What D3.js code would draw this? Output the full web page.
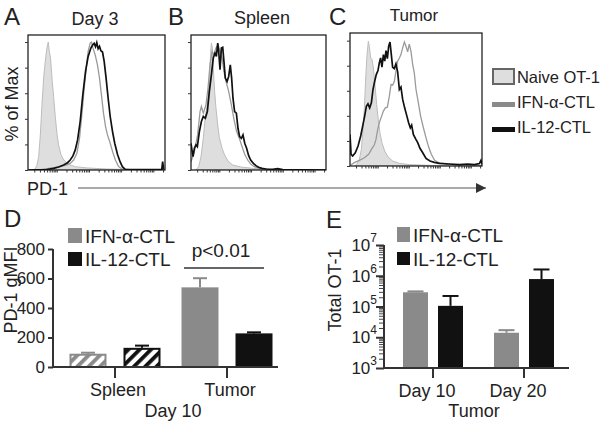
<!DOCTYPE html>
<html><head><meta charset="utf-8">
<script src="https://cdn.jsdelivr.net/npm/d3@7"></script>
<style>
body{margin:0;background:#fff;}
svg{display:block;font-family:"Liberation Sans",Arial,sans-serif;}
text{fill:#222;}
</style></head>
<body><svg id="c" width="601" height="424"></svg>
<script>
// ---------- histogram data: [axis position %, % of Max] ----------
const naiveA=[[2.9,0],[5.3,0.8],[6.6,3.9],[7.8,10.4],[9.0,27.4],[10.2,50.9],[11.4,71.8],[12.6,84.9],[13.8,95.3],[14.8,100],[15.5,92.7],[16.3,88.8],[17.0,79.6],[17.7,69.2],[18.7,57.4],[19.9,41.8],[21.1,28.7],[22.3,19.6],[24.0,12.3],[26.0,7.8],[29.6,4.4],[34.5,2.6],[43.0,1.6],[57.5,0.8],[74.5,0.3],[98.8,0]];
const ifnA=[[0.5,0],[9.0,0.3],[18.7,1.8],[23.5,2.6],[28.4,3.9],[30.8,5.2],[33.3,7.8],[35.7,13.1],[37.6,24.8],[39.3,43.1],[41.0,64.0],[42.5,79.6],[43.9,92.7],[45.4,99.2],[46.4,100],[47.3,95.8],[49.0,90.1],[50.7,82.2],[52.2,71.8],[53.6,58.7],[55.1,44.4],[56.6,33.9],[58.0,27.4],[60.0,20.9],[61.9,13.8],[63.8,7.8],[66.0,2.9],[68.4,0.8],[74.5,0.3],[98.8,0]];
const il12A=[[0.5,0],[13.8,0.3],[18.7,1.3],[22.3,2.3],[26.0,3.9],[28.9,5.7],[30.8,7.8],[32.8,11.0],[34.5,15.7],[36.2,23.5],[38.1,37.9],[40.0,58.7],[42.0,77.0],[43.9,88.8],[45.9,95.3],[47.3,97.9],[48.3,99.0],[49.3,96.3],[50.2,99.5],[51.2,94.8],[52.2,96.6],[53.2,93.2],[54.4,92.2],[55.6,84.9],[57.0,71.8],[58.5,56.1],[60.0,41.8],[61.7,30.0],[63.3,20.9],[65.3,12.3],[67.2,6.5],[68.9,2.6],[70.9,0.5],[74.5,0.3],[97.6,0.3],[98.3,6.5],[99.0,0.3]];
const naiveB=[[3.7,0.3],[5.7,2.6],[7.4,10.4],[9.1,24.8],[10.6,41.8],[12.3,52.2],[13.6,69.2],[14.6,92.7],[15.1,99.2],[15.8,95.3],[16.5,79.6],[17.5,61.4],[18.5,48.3],[19.8,35.2],[21.0,25.3],[23.0,17.0],[24.9,11.7],[27.4,7.0],[30.9,3.9],[37.0,2.3],[45.7,1.3],[55.6,0.5],[67.9,0]];
const ifnB=[[0,6.5],[2.5,14.4],[4.9,27.4],[6.7,45.7],[7.7,49.6],[9.1,44.4],[11.1,50.9],[12.6,64.0],[14.1,82.2],[15.6,92.7],[17.0,90.1],[18.5,95.3],[20.0,97.9],[21.5,92.7],[23.0,87.5],[24.4,77.0],[25.9,69.2],[27.9,61.4],[29.9,50.9],[31.9,39.2],[33.8,30.0],[35.8,24.8],[37.8,18.3],[39.8,12.3],[42.0,7.8],[44.4,4.4],[46.9,2.6],[50.6,1.3],[58.0,0.5],[65.4,0.3],[100,0]];
const il12B=[[0,20.9],[0.7,15.7],[1.5,10.4],[2.5,17.0],[3.7,19.6],[4.7,18.3],[6.2,30.0],[7.7,37.9],[9.1,41.8],[10.6,40.5],[12.1,45.7],[13.6,61.4],[15.1,74.4],[16.5,87.5],[17.8,91.4],[18.8,88.8],[19.8,99.2],[20.5,92.7],[21.5,78.3],[22.5,95.3],[23.5,95.8],[24.4,84.9],[25.4,71.8],[26.7,69.2],[27.9,73.1],[29.1,82.2],[30.1,71.8],[31.1,56.1],[32.3,45.7],[33.6,44.4],[34.8,32.6],[36.0,26.1],[37.3,24.8],[38.5,27.4],[39.8,20.9],[41.2,17.0],[42.7,11.2],[44.2,7.8],[46.2,5.2],[48.1,3.4],[50.1,2.1],[52.6,1.3],[55.6,0.8],[60.5,0.5],[64.2,1.0],[67.9,0.3],[100,0]];
const naiveC=[[3.3,0],[5.1,1.3],[7.1,5.3],[8.6,13.3],[9.8,27.9],[10.9,46.4],[11.9,70.3],[12.9,88.9],[13.9,99.5],[14.6,95.5],[15.7,86.2],[16.7,84.9],[17.7,78.2],[18.9,65.0],[20.2,49.1],[21.5,35.8],[22.7,26.5],[24.2,18.6],[26.3,11.9],[28.8,7.2],[32.3,4.0],[37.4,2.1],[44.9,1.1],[60.1,0.5],[75.3,0]];
const ifnC=[[0.5,0.8],[3.3,2.7],[7.1,4.5],[10.9,6.6],[14.1,9.3],[16.7,14.1],[18.4,16.7],[19.7,21.2],[21.0,29.2],[22.2,34.5],[23.7,39.0],[25.3,43.8],[26.8,46.4],[28.3,46.9],[29.8,55.7],[31.1,65.0],[32.3,64.5],[33.6,67.6],[34.8,75.6],[36.1,83.6],[37.4,86.2],[38.6,88.9],[39.9,94.2],[41.2,98.9],[42.4,95.5],[43.7,91.0],[44.9,97.3],[46.2,91.5],[47.5,80.9],[48.7,74.3],[50.0,61.0],[51.8,50.4],[53.5,39.8],[55.6,30.5],[57.6,22.5],[59.6,15.1],[61.6,9.3],[64.1,4.5],[67.7,2.4],[75.3,1.1],[85.4,0.5],[99.5,0.5]];
const il12C=[[0,25.2],[0.8,9.3],[2.0,8.0],[4.0,10.6],[6.1,15.9],[8.1,23.9],[9.6,31.8],[11.1,39.8],[12.4,47.7],[13.6,49.6],[14.9,46.4],[16.2,50.4],[17.4,61.0],[18.7,67.6],[19.9,72.9],[21.2,76.1],[22.2,82.2],[23.2,86.2],[24.2,78.8],[25.3,88.9],[26.3,83.6],[27.3,92.0],[28.3,85.7],[29.3,95.5],[30.3,98.9],[31.3,88.9],[32.3,78.8],[33.6,77.7],[34.8,81.4],[36.1,75.1],[37.4,61.0],[38.6,62.9],[39.9,53.1],[41.4,46.4],[42.9,40.6],[44.4,34.5],[45.7,30.5],[46.7,32.6],[48.0,25.2],[49.5,22.0],[51.3,18.6],[53.0,14.1],[55.1,10.6],[57.6,6.1],[60.6,4.0],[63.9,2.9],[67.7,2.1],[75.3,1.6],[82.8,1.1],[89.1,1.6],[94.2,1.1],[98.0,1.9],[99.2,4.5],[100,1.3]];
const pctTicks=[0,20,40,60,80,100];
const histTitles=["Day 3","Spleen","Tumor"];
const histLetters=["A","B","C"];
const legendTop=["Naive OT-1","IFN-α-CTL","IL-12-CTL"];

// ---------- bar data ----------
const seriesNames=["IFN-α-CTL","IL-12-CTL"];
const groupsD=["Spleen","Tumor"];
const pd1IFN=[90,540], pd1IFNerr=[7,62];
const pd1IL12=[130,228], pd1IL12err=[15,7];
const ticksD=[0,200,400,600,800];
const groupsE=["Day 10","Day 20"];
const totIFN=[2.9e5,1.4e4], totIFNhi=[3.1e5,1.7e4];
const totIL12=[1.05e5,7.8e5], totIL12hi=[2.2e5,1.6e6];
const ticksE=[1e3,1e4,1e5,1e6,1e7];

const C_IFN="#8a8a8a", C_IL="#111", C_NAIVE="#dedede", C_LINE="#9a9a9a";
const svg=d3.select("#c");
const defs=svg.append("defs");

// ---------- histograms ----------
const panels=[
 {L:28,R:165,T:35,B:170,top:105.5,data:[naiveA,ifnA,il12A],lx:4,tx:95,ty:25},
 {L:191,R:326,T:35,B:170,top:105.5,data:[naiveB,ifnB,il12B],lx:168,tx:262,ty:24},
 {L:350,R:482,T:33,B:166,top:106.1,data:[naiveC,ifnC,il12C],lx:329,tx:414,ty:21}
];
panels.forEach((p,i)=>{
  const x=d3.scaleLinear().domain([0,100]).range([p.L,p.R]);
  const y=d3.scaleLinear().domain([0,p.top]).range([p.B,p.T]);
  const id="clip"+i;
  defs.append("clipPath").attr("id",id).append("rect").attr("x",p.L).attr("y",p.T).attr("width",p.R-p.L).attr("height",p.B-p.T);
  const g=svg.append("g").attr("clip-path",`url(#${id})`);
  const area=d3.area().x(d=>x(d[0])).y0(y(0)).y1(d=>y(d[1]));
  const line=d3.line().x(d=>x(d[0])).y(d=>y(d[1]));
  g.append("path").attr("d",area(p.data[0])).attr("fill",C_NAIVE).attr("stroke","#bdbdbd").attr("stroke-width",1);
  g.append("path").attr("d",line(p.data[1])).attr("fill","none").attr("stroke",C_LINE).attr("stroke-width",1.3);
  g.append("path").attr("d",line(p.data[2])).attr("fill","none").attr("stroke",C_IL).attr("stroke-width",1.7);
  svg.append("rect").attr("x",p.L).attr("y",p.T).attr("width",p.R-p.L).attr("height",p.B-p.T).attr("fill","none").attr("stroke","#111").attr("stroke-width",1.2);
  // left ticks
  svg.append("g").attr("transform",`translate(${p.L},0)`).call(d3.axisLeft(y).tickValues(pctTicks).tickSize(3).tickFormat(""))
    .call(a=>{a.select(".domain").remove();a.selectAll("line").attr("stroke","#333");});
  // bottom log ticks
  const xl=d3.scaleLog().domain([Math.pow(10,2.5/23.5),Math.pow(10,102.5/23.5)]).range([p.L,p.R]);
  svg.append("g").attr("transform",`translate(0,${p.B})`).call(d3.axisBottom(xl).ticks(20).tickSize(2.5).tickFormat(""))
    .call(a=>{a.select(".domain").remove();a.selectAll("line").attr("stroke","#333");});
  svg.append("text").attr("x",p.lx).attr("y",25).attr("font-size",24).text(histLetters[i]);
  svg.append("text").attr("x",p.tx).attr("y",p.ty).attr("font-size",i==2?17:18).attr("text-anchor","middle").text(histTitles[i]);
});
svg.append("text").attr("transform","translate(18,104) rotate(-90)").attr("text-anchor","middle").attr("font-size",18).text("% of Max");
svg.append("text").attr("x",27).attr("y",195).attr("font-size",18).text("PD-1");
defs.append("marker").attr("id","arr").attr("viewBox","0 0 10 10").attr("refX",10).attr("refY",5)
  .attr("markerWidth",12).attr("markerHeight",10).attr("markerUnits","userSpaceOnUse").attr("orient","auto")
  .append("path").attr("d","M0,0L10,5L0,10Z").attr("fill","#333");
svg.append("line").attr("x1",78).attr("x2",486).attr("y1",188).attr("y2",188).attr("stroke","#555").attr("stroke-width",1.2).attr("marker-end","url(#arr)");

// top legend
const lg=svg.append("g");
lg.append("rect").attr("x",493).attr("y",69).attr("width",21).attr("height",15).attr("fill",C_NAIVE).attr("stroke","#666").attr("stroke-width",2);
lg.append("rect").attr("x",492).attr("y",102).attr("width",23).attr("height",5).attr("fill",C_IFN);
lg.append("rect").attr("x",492).attr("y",127).attr("width",23).attr("height",5).attr("fill",C_IL);
[83,108,133].forEach((yy,k)=>lg.append("text").attr("x",517).attr("y",yy).attr("font-size",16.5).attr("textLength",k==0?83:(k==1?78:74)).text(legendTop[k]));

// ---------- patterns ----------
function hatch(id,col){
  const pt=defs.append("pattern").attr("id",id).attr("patternUnits","userSpaceOnUse").attr("width",8).attr("height",8).attr("patternTransform","rotate(45)");
  pt.append("rect").attr("width",8).attr("height",8).attr("fill","#fff");
  pt.append("rect").attr("x",0).attr("width",3.8).attr("height",8).attr("fill",col);
}
hatch("hIFN",C_IFN); hatch("hIL",C_IL);

// ---------- panel D ----------
{
  const y=d3.scaleLinear().domain([0,800]).range([367,249]);
  const x0=d3.scaleBand().domain(groupsD).range([59,283]);
  const x1=d3.scaleBand().domain(seriesNames).range([10.5,101.5]).paddingInner(0.315);
  const vals=[pd1IFN,pd1IL12], errs=[pd1IFNerr,pd1IL12err], cols=[C_IFN,C_IL];
  groupsD.forEach((gname,gi)=>{
    seriesNames.forEach((s,si)=>{
      const bx=x0(gname)+x1(s), bw=x1.bandwidth(), v=vals[si][gi], e=errs[si][gi];
      const cx=bx+bw/2;
      svg.append("line").attr("x1",cx).attr("x2",cx).attr("y1",y(v)).attr("y2",y(v+e)).attr("stroke",cols[si]).attr("stroke-width",2);
      svg.append("line").attr("x1",cx-7).attr("x2",cx+7).attr("y1",y(v+e)).attr("y2",y(v+e)).attr("stroke",cols[si]).attr("stroke-width",2);
      const hatched=gi===0;
      svg.append("rect").attr("x",bx+(hatched?1:0)).attr("y",y(v)+(hatched?1:0)).attr("width",bw-(hatched?2:0)).attr("height",y(0)-y(v)-(hatched?1:0))
        .attr("fill",hatched?(si==0?"url(#hIFN)":"url(#hIL)"):cols[si]).attr("stroke",hatched?cols[si]:"none").attr("stroke-width",2);
    });
  });
  svg.append("g").attr("transform","translate(53,0)").call(d3.axisLeft(y).tickValues(ticksD).tickSize(5).tickPadding(3))
    .call(a=>{a.select(".domain").attr("stroke","#333").attr("stroke-width",2).attr("d","M0,249V367");a.selectAll("line").attr("stroke","#333").attr("stroke-width",2);
      a.selectAll("text").attr("font-size",17).attr("fill","#222").attr("font-family","Liberation Sans, Arial, sans-serif");});
  svg.append("line").attr("x1",52).attr("x2",278).attr("y1",367).attr("y2",367).attr("stroke","#333").attr("stroke-width",2);
  groupsD.forEach(gname=>{
    const cx=x0(gname)+x0.bandwidth()/2;
    svg.append("line").attr("x1",cx).attr("x2",cx).attr("y1",367).attr("y2",378).attr("stroke","#333").attr("stroke-width",2);
    svg.append("text").attr("x",cx+3).attr("y",396).attr("text-anchor","middle").attr("font-size",18).text(gname);
  });
  svg.append("text").attr("x",173).attr("y",417).attr("text-anchor","middle").attr("font-size",18).text("Day 10");
  svg.append("text").attr("transform","translate(17,290) rotate(-90)").attr("text-anchor","middle").attr("font-size",18).text("PD-1 gMFI");
  svg.append("text").attr("x",4).attr("y",227).attr("font-size",24).text("D");
  svg.append("rect").attr("x",68).attr("y",228).attr("width",14).attr("height",15).attr("fill",C_IFN);
  svg.append("rect").attr("x",68).attr("y",252).attr("width",14).attr("height",14).attr("fill",C_IL);
  svg.append("text").attr("x",85).attr("y",243).attr("font-size",19).text(seriesNames[0]);
  svg.append("text").attr("x",85).attr("y",266).attr("font-size",19).text(seriesNames[1]);
  svg.append("text").attr("x",221).attr("y",257).attr("text-anchor","middle").attr("font-size",19).text("p<0.01");
  svg.append("line").attr("x1",184).attr("x2",264).attr("y1",268).attr("y2",268).attr("stroke","#333").attr("stroke-width",1.5);
}

// ---------- panel E ----------
{
  const y=d3.scaleLog().domain([1e3,1e7]).range([368,245]);
  const x0=d3.scaleBand().domain(groupsE).range([387.5,569.5]);
  const x1=d3.scaleBand().domain(seriesNames).range([15.5,75.5]).paddingInner(0.2857);
  const vals=[totIFN,totIL12], his=[totIFNhi,totIL12hi], cols=[C_IFN,C_IL];
  groupsE.forEach((gname,gi)=>{
    seriesNames.forEach((s,si)=>{
      const bx=x0(gname)+x1(s), bw=x1.bandwidth(), v=vals[si][gi], h=his[si][gi], cx=bx+bw/2;
      svg.append("line").attr("x1",cx).attr("x2",cx).attr("y1",y(v)).attr("y2",y(h)).attr("stroke",cols[si]).attr("stroke-width",2);
      svg.append("line").attr("x1",cx-8).attr("x2",cx+8).attr("y1",y(h)).attr("y2",y(h)).attr("stroke",cols[si]).attr("stroke-width",2);
      svg.append("rect").attr("x",bx).attr("y",y(v)).attr("width",bw).attr("height",368-y(v)).attr("fill",cols[si]);
    });
  });
  // minor ticks
  const minor=y.ticks(40).filter(t=>ticksE.indexOf(t)<0);
  svg.append("g").attr("transform","translate(384,0)").call(d3.axisLeft(y).tickValues(minor).tickSize(5).tickFormat(""))
    .call(a=>{a.select(".domain").remove();a.selectAll("line").attr("stroke","#444").attr("stroke-width",1);});
  const ax=svg.append("g").attr("transform","translate(384,0)").call(d3.axisLeft(y).tickValues(ticksE).tickSize(8).tickFormat(""))
    .call(a=>{a.select(".domain").attr("stroke","#333").attr("stroke-width",2).attr("d","M0,245V368");a.selectAll("line").attr("stroke","#333").attr("stroke-width",2);});
  ticksE.forEach(t=>{
    const tx=svg.append("text").attr("x",377).attr("y",y(t)+6).attr("text-anchor","end").attr("font-size",17);
    tx.append("tspan").text("10");
    tx.append("tspan").attr("dy",-9).attr("font-size",12).text(String(Math.round(Math.log10(t))));
  });
  svg.append("line").attr("x1",383).attr("x2",569).attr("y1",368).attr("y2",368).attr("stroke","#333").attr("stroke-width",2);
  groupsE.forEach(gname=>{
    const cx=x0(gname)+x0.bandwidth()/2;
    svg.append("line").attr("x1",cx).attr("x2",cx).attr("y1",368).attr("y2",378).attr("stroke","#333").attr("stroke-width",2);
    svg.append("text").attr("x",cx-6).attr("y",397).attr("text-anchor","middle").attr("font-size",18).text(gname);
  });
  svg.append("text").attr("x",474).attr("y",417).attr("text-anchor","middle").attr("font-size",18).text("Tumor");
  svg.append("text").attr("transform","translate(341,290) rotate(-90)").attr("text-anchor","middle").attr("font-size",18).text("Total OT-1");
  svg.append("text").attr("x",326).attr("y",228).attr("font-size",24).text("E");
  svg.append("rect").attr("x",397).attr("y",227).attr("width",13).attr("height",15).attr("fill",C_IFN);
  svg.append("rect").attr("x",397).attr("y",252).attr("width",13).attr("height",13).attr("fill",C_IL);
  svg.append("text").attr("x",413).attr("y",242).attr("font-size",19).text(seriesNames[0]);
  svg.append("text").attr("x",413).attr("y",266).attr("font-size",19).text(seriesNames[1]);
}
</script></body></html>
